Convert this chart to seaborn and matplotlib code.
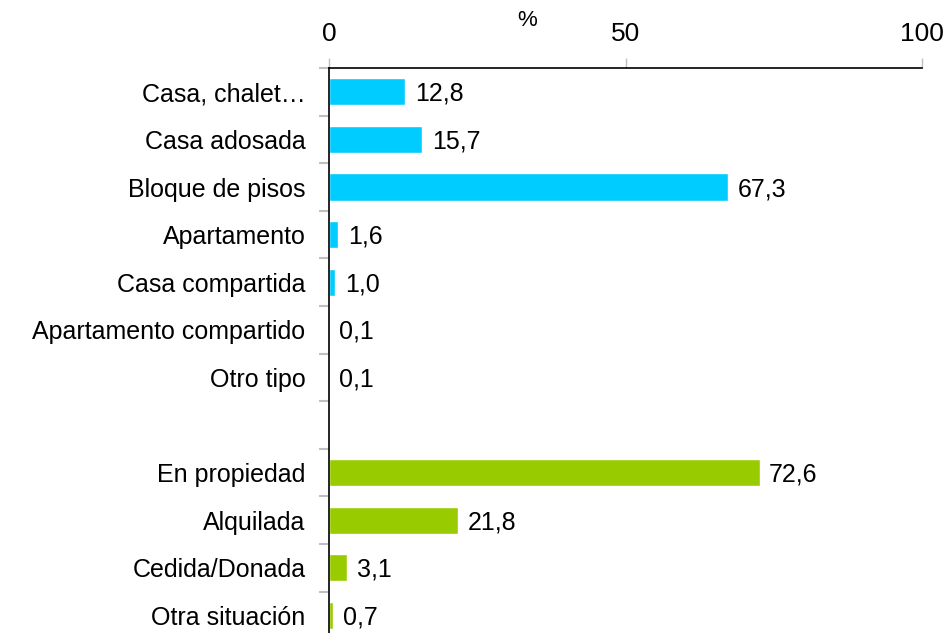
import matplotlib
matplotlib.use('Agg')
import matplotlib.pyplot as plt
import numpy as np
import pandas as pd
import seaborn as sns

# %%
'''Data'''

tipo_labels = ['Casa, chalet…', 'Casa adosada', 'Bloque de pisos', 'Apartamento',
               'Casa compartida', 'Apartamento compartido', 'Otro tipo']
tipo_values = [12.8, 15.7, 67.3, 1.6, 1.0, 0.1, 0.1]

regimen_labels = ['En propiedad', 'Alquilada', 'Cedida/Donada', 'Otra situación']
regimen_values = [72.6, 21.8, 3.1, 0.7]

x_ticks = [0, 50, 100]

data = pd.DataFrame({
    'label': tipo_labels + regimen_labels,
    'value': tipo_values + regimen_values,
    'group': ['tipo'] * len(tipo_labels) + ['regimen'] * len(regimen_labels),
})
order = tipo_labels + [' '] + regimen_labels

# %%
'''Bar Plot'''

sns.set_style('white')
plt.rcParams['font.family'] = ['Liberation Sans', 'DejaVu Sans']
plt.rcParams['text.color'] = 'black'
plt.rcParams['xtick.labelcolor'] = 'black'
plt.rcParams['ytick.labelcolor'] = 'black'
fs = 18

fig = plt.figure(figsize=(9.5, 6.33), dpi=100)
slot = 47.6 / 633
top = 1 - 68 / 633
ax = fig.add_axes([329 / 950, top - slot * len(order), 593 / 950, slot * len(order)])

sns.barplot(data=data, x='value', y='label', hue='group', order=order,
            palette={'tipo': '#00CCFF', 'regimen': '#99CC00'},
            dodge=False, legend=False, width=0.57, ax=ax, saturation=1)

for lab, val in zip(data['label'], data['value']):
    ax.annotate(f'{val:.1f}'.replace('.', ','), xy=(val, order.index(lab)),
                xytext=(7, -1.5), textcoords='offset points',
                va='center', ha='left', fontsize=fs)

ax.set_xlim(0, 100)
ax.set_ylim(len(order) - 0.5, -0.5)
ax.xaxis.tick_top()
ax.set_xticks(x_ticks)
ax.set_xticklabels([str(t) for t in x_ticks], fontsize=19)
ax.tick_params(axis='x', length=7, color='#c0c0c0', width=1, pad=9, top=True, bottom=False)
ax.set_xlabel('')
ax.set_ylabel('')
ax.text(0.334, 1.0 + 48 / (slot * len(order) * 633), '%', transform=ax.transAxes,
        ha='center', va='center', fontsize=16)

ax.set_yticks(range(len(order)))
ax.set_yticklabels(order, fontsize=fs)
ax.tick_params(axis='y', length=0, pad=17)
ax.set_yticks(np.arange(-0.5, len(order), 1), minor=True)
ax.tick_params(axis='y', which='minor', length=7, color='#c0c0c0', width=1.5, left=True)

for s in ['right', 'bottom']:
    ax.spines[s].set_visible(False)
for s in ['top', 'left']:
    ax.spines[s].set_color('black')
    ax.spines[s].set_linewidth(1.2)
ax.grid(False)

fig.savefig('out.png', dpi=100)
